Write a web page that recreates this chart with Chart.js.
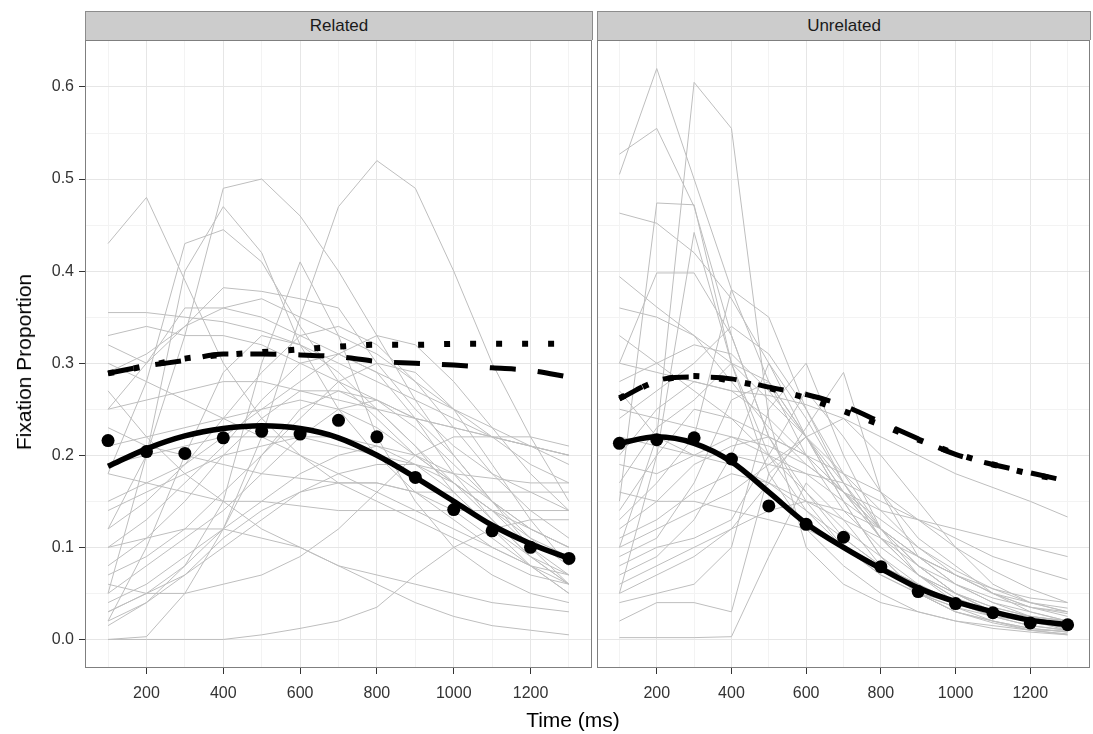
<!DOCTYPE html>
<html lang="en">
<head>
    <meta charset="UTF-8">
    <title>Fixation Proportion - Related vs Unrelated</title>
    <script src="https://cdn.jsdelivr.net/npm/chart.js"></script>
    <style>
        body { margin: 0; background: #fff; font-family: "Liberation Sans", Arial, sans-serif; }
        #wrap { position: relative; width: 1093px; height: 734px; }
        .strip {
            position: absolute; top: 11px; height: 29px; box-sizing: border-box;
            background: #cccccc; border: 1px solid #8c8c8c; border-bottom: none;
            text-align: center; font-size: 17px; line-height: 28px; color: #1a1a1a;
        }
        .panel { position: absolute; top: 40px; }
        #ytitle {
            position: absolute; left: 24px; top: 362px; font-size: 21px; color: #000;
            transform: translate(-50%, -50%) rotate(-90deg); white-space: nowrap;
        }
        #xtitle {
            position: absolute; left: 573px; top: 720px; font-size: 21px; color: #000;
            transform: translate(-50%, -50%); white-space: nowrap;
        }
    </style>
</head>
<body>
<div id="wrap">
    <div class="strip" style="left:85px;width:508px">Related</div>
    <div class="strip" style="left:597px;width:494px">Unrelated</div>
    <div class="panel" style="left:0"><canvas id="leftChart" width="593" height="694"></canvas></div>
    <div class="panel" style="left:597px"><canvas id="rightChart" width="496" height="694"></canvas></div>
    <div id="ytitle">Fixation Proportion</div>
    <div id="xtitle">Time (ms)</div>
</div>

<script>
    // time bins (ms)
    const times = [100, 200, 300, 400, 500, 600, 700, 800, 900, 1000, 1100, 1200, 1300];
    const xTicks = [200, 400, 600, 800, 1000, 1200];
    const yTicks = [0, 0.1, 0.2, 0.3, 0.4, 0.5, 0.6];

    // Related panel
    const relatedMeans  = [0.216, 0.204, 0.202, 0.219, 0.226, 0.223, 0.238, 0.220, 0.176, 0.141, 0.118, 0.100, 0.088];
    const relatedFit    = [0.188, 0.207, 0.221, 0.229, 0.232, 0.229, 0.219, 0.200, 0.176, 0.150, 0.124, 0.104, 0.088];
    const relatedDashed = [0.289, 0.297, 0.303, 0.310, 0.310, 0.309, 0.307, 0.302, 0.300, 0.298, 0.295, 0.292, 0.285];
    const relatedDotted = [0.289, 0.297, 0.305, 0.309, 0.312, 0.315, 0.318, 0.320, 0.320, 0.321, 0.321, 0.321, 0.321];

    // Unrelated panel
    const unrelatedMeans  = [0.213, 0.217, 0.219, 0.196, 0.145, 0.125, 0.111, 0.079, 0.052, 0.039, 0.029, 0.018, 0.016];
    const unrelatedFit    = [0.213, 0.220, 0.213, 0.193, 0.160, 0.126, 0.100, 0.077, 0.056, 0.041, 0.030, 0.021, 0.016];
    const unrelatedDashed = [0.261, 0.281, 0.285, 0.283, 0.274, 0.266, 0.254, 0.236, 0.218, 0.201, 0.190, 0.181, 0.172];
    const unrelatedDotted = [0.262, 0.280, 0.286, 0.281, 0.273, 0.262, 0.248, 0.233, 0.217, 0.202, 0.190, 0.180, 0.172];

    // individual participants (grey lines)
    const relatedSubjects = [
        [0.43, 0.48, 0.39, 0.30, 0.24, 0.20, 0.17, 0.15, 0.13, 0.11, 0.09, 0.07, 0.06],
        [0.03, 0.05, 0.08, 0.12, 0.22, 0.35, 0.47, 0.52, 0.49, 0.40, 0.30, 0.22, 0.15],
        [0.12, 0.20, 0.33, 0.49, 0.50, 0.46, 0.40, 0.33, 0.26, 0.20, 0.15, 0.12, 0.10],
        [0.05, 0.20, 0.40, 0.47, 0.42, 0.32, 0.25, 0.20, 0.16, 0.13, 0.10, 0.08, 0.07],
        [0.18, 0.28, 0.43, 0.445, 0.41, 0.34, 0.28, 0.24, 0.20, 0.17, 0.14, 0.12, 0.10],
        [0.02, 0.04, 0.08, 0.15, 0.30, 0.41, 0.33, 0.22, 0.15, 0.10, 0.07, 0.05, 0.04],
        [0.355, 0.355, 0.35, 0.345, 0.335, 0.32, 0.30, 0.28, 0.26, 0.24, 0.22, 0.21, 0.20],
        [0.25, 0.30, 0.34, 0.382, 0.378, 0.37, 0.36, 0.30, 0.25, 0.21, 0.18, 0.16, 0.14],
        [0.33, 0.34, 0.33, 0.33, 0.32, 0.30, 0.28, 0.26, 0.24, 0.23, 0.22, 0.22, 0.21],
        [0.32, 0.30, 0.36, 0.36, 0.35, 0.33, 0.31, 0.29, 0.27, 0.25, 0.23, 0.21, 0.19],
        [0.29, 0.31, 0.34, 0.36, 0.37, 0.35, 0.33, 0.31, 0.28, 0.25, 0.22, 0.19, 0.17],
        [0.27, 0.22, 0.18, 0.15, 0.12, 0.10, 0.08, 0.07, 0.06, 0.05, 0.04, 0.035, 0.03],
        [0.25, 0.26, 0.27, 0.28, 0.28, 0.27, 0.26, 0.25, 0.24, 0.23, 0.22, 0.21, 0.20],
        [0.23, 0.21, 0.20, 0.19, 0.18, 0.175, 0.17, 0.17, 0.16, 0.16, 0.16, 0.16, 0.16],
        [0.21, 0.22, 0.23, 0.24, 0.25, 0.26, 0.25, 0.23, 0.20, 0.17, 0.14, 0.11, 0.09],
        [0.19, 0.20, 0.21, 0.22, 0.22, 0.22, 0.21, 0.20, 0.19, 0.18, 0.175, 0.17, 0.17],
        [0.18, 0.17, 0.16, 0.15, 0.15, 0.145, 0.14, 0.14, 0.14, 0.14, 0.14, 0.14, 0.14],
        [0.15, 0.17, 0.19, 0.22, 0.25, 0.28, 0.31, 0.33, 0.32, 0.28, 0.23, 0.18, 0.14],
        [0.12, 0.15, 0.19, 0.24, 0.29, 0.33, 0.34, 0.32, 0.28, 0.23, 0.18, 0.14, 0.11],
        [0.10, 0.13, 0.17, 0.21, 0.26, 0.30, 0.31, 0.29, 0.24, 0.18, 0.13, 0.09, 0.06],
        [0.08, 0.11, 0.15, 0.20, 0.24, 0.27, 0.27, 0.25, 0.21, 0.16, 0.12, 0.08, 0.05],
        [0.07, 0.09, 0.12, 0.16, 0.20, 0.24, 0.28, 0.30, 0.29, 0.25, 0.19, 0.13, 0.08],
        [0.05, 0.08, 0.11, 0.14, 0.18, 0.22, 0.25, 0.26, 0.24, 0.20, 0.15, 0.10, 0.06],
        [0.04, 0.06, 0.09, 0.12, 0.15, 0.18, 0.20, 0.21, 0.20, 0.18, 0.15, 0.12, 0.10],
        [0.03, 0.05, 0.07, 0.10, 0.13, 0.16, 0.18, 0.19, 0.19, 0.17, 0.14, 0.10, 0.07],
        [0.02, 0.10, 0.20, 0.29, 0.33, 0.32, 0.29, 0.25, 0.21, 0.17, 0.13, 0.09, 0.06],
        [0.015, 0.04, 0.07, 0.11, 0.14, 0.16, 0.17, 0.17, 0.16, 0.14, 0.11, 0.08, 0.05],
        [0.0, 0.0, 0.0, 0.0, 0.005, 0.012, 0.02, 0.035, 0.07, 0.10, 0.12, 0.13, 0.13],
        [0.0, 0.003, 0.05, 0.12, 0.20, 0.25, 0.27, 0.26, 0.23, 0.19, 0.15, 0.11, 0.08],
        [0.10, 0.11, 0.12, 0.12, 0.11, 0.10, 0.08, 0.06, 0.04, 0.025, 0.015, 0.01, 0.005],
        [0.30, 0.28, 0.26, 0.24, 0.22, 0.20, 0.18, 0.16, 0.14, 0.12, 0.10, 0.08, 0.06],
        [0.14, 0.16, 0.18, 0.20, 0.21, 0.22, 0.22, 0.21, 0.19, 0.16, 0.12, 0.09, 0.07],
        [0.06, 0.05, 0.05, 0.06, 0.07, 0.09, 0.12, 0.16, 0.20, 0.22, 0.22, 0.21, 0.20]
    ];
    const unrelatedSubjects = [
        [0.505, 0.62, 0.50, 0.38, 0.28, 0.20, 0.14, 0.10, 0.07, 0.05, 0.035, 0.025, 0.02],
        [0.527, 0.555, 0.47, 0.33, 0.22, 0.15, 0.10, 0.07, 0.05, 0.035, 0.025, 0.02, 0.015],
        [0.10, 0.22, 0.605, 0.555, 0.24, 0.10, 0.06, 0.04, 0.03, 0.02, 0.012, 0.008, 0.005],
        [0.15, 0.474, 0.472, 0.30, 0.18, 0.12, 0.08, 0.05, 0.03, 0.02, 0.015, 0.01, 0.01],
        [0.463, 0.452, 0.42, 0.37, 0.30, 0.22, 0.16, 0.11, 0.08, 0.06, 0.045, 0.035, 0.03],
        [0.05, 0.20, 0.442, 0.30, 0.20, 0.14, 0.10, 0.07, 0.05, 0.04, 0.03, 0.02, 0.015],
        [0.394, 0.361, 0.33, 0.28, 0.23, 0.19, 0.16, 0.14, 0.13, 0.12, 0.11, 0.10, 0.09],
        [0.30, 0.398, 0.398, 0.33, 0.22, 0.16, 0.11, 0.08, 0.06, 0.04, 0.03, 0.025, 0.02],
        [0.30, 0.29, 0.28, 0.27, 0.265, 0.255, 0.24, 0.22, 0.20, 0.18, 0.165, 0.15, 0.133],
        [0.22, 0.21, 0.20, 0.20, 0.19, 0.18, 0.17, 0.15, 0.13, 0.11, 0.09, 0.077, 0.065],
        [0.33, 0.30, 0.27, 0.24, 0.22, 0.20, 0.18, 0.16, 0.13, 0.10, 0.075, 0.055, 0.04],
        [0.25, 0.24, 0.23, 0.22, 0.20, 0.18, 0.15, 0.12, 0.09, 0.07, 0.05, 0.04, 0.034],
        [0.20, 0.25, 0.28, 0.27, 0.24, 0.20, 0.16, 0.12, 0.09, 0.07, 0.05, 0.035, 0.028],
        [0.17, 0.23, 0.26, 0.30, 0.28, 0.22, 0.16, 0.11, 0.07, 0.05, 0.03, 0.02, 0.015],
        [0.14, 0.20, 0.25, 0.24, 0.20, 0.16, 0.12, 0.09, 0.06, 0.04, 0.03, 0.02, 0.015],
        [0.12, 0.15, 0.19, 0.21, 0.22, 0.20, 0.16, 0.12, 0.08, 0.05, 0.035, 0.025, 0.02],
        [0.05, 0.07, 0.09, 0.12, 0.17, 0.23, 0.29, 0.16, 0.09, 0.06, 0.04, 0.03, 0.02],
        [0.10, 0.12, 0.14, 0.16, 0.19, 0.22, 0.24, 0.20, 0.15, 0.10, 0.06, 0.04, 0.03],
        [0.08, 0.10, 0.11, 0.13, 0.20, 0.27, 0.22, 0.16, 0.11, 0.08, 0.05, 0.035, 0.025],
        [0.04, 0.05, 0.06, 0.10, 0.25, 0.30, 0.20, 0.12, 0.07, 0.04, 0.025, 0.015, 0.01],
        [0.002, 0.002, 0.002, 0.003, 0.09, 0.17, 0.13, 0.08, 0.05, 0.03, 0.02, 0.01, 0.005],
        [0.02, 0.04, 0.04, 0.03, 0.18, 0.22, 0.15, 0.09, 0.05, 0.03, 0.02, 0.012, 0.008],
        [0.06, 0.08, 0.10, 0.12, 0.14, 0.15, 0.14, 0.12, 0.09, 0.06, 0.04, 0.025, 0.015],
        [0.16, 0.15, 0.15, 0.14, 0.13, 0.12, 0.10, 0.08, 0.06, 0.04, 0.025, 0.015, 0.01],
        [0.11, 0.13, 0.16, 0.18, 0.17, 0.14, 0.11, 0.08, 0.05, 0.035, 0.02, 0.012, 0.008],
        [0.28, 0.30, 0.32, 0.31, 0.27, 0.22, 0.17, 0.12, 0.08, 0.05, 0.03, 0.02, 0.012],
        [0.24, 0.27, 0.30, 0.34, 0.31, 0.25, 0.18, 0.12, 0.08, 0.05, 0.03, 0.02, 0.01],
        [0.36, 0.35, 0.33, 0.30, 0.26, 0.22, 0.18, 0.14, 0.10, 0.07, 0.05, 0.03, 0.02],
        [0.19, 0.18, 0.20, 0.22, 0.21, 0.19, 0.16, 0.13, 0.10, 0.075, 0.055, 0.04, 0.03],
        [0.09, 0.11, 0.17, 0.26, 0.28, 0.22, 0.15, 0.09, 0.05, 0.03, 0.018, 0.01, 0.006],
        [0.13, 0.17, 0.22, 0.38, 0.35, 0.25, 0.17, 0.11, 0.07, 0.045, 0.03, 0.02, 0.012],
        [0.07, 0.09, 0.13, 0.20, 0.30, 0.24, 0.17, 0.11, 0.07, 0.045, 0.03, 0.02, 0.013],
        [0.27, 0.22, 0.20, 0.19, 0.17, 0.15, 0.13, 0.11, 0.09, 0.07, 0.055, 0.045, 0.04]
    ];

    const X_MIN = 40, X_MAX = 1360, Y_MIN = -0.031, Y_MAX = 0.651;

    function pts(values) {
        return times.map((t, i) => ({ x: t, y: values[i] }));
    }

    // major ticks from the label arrays, minor ones half way between
    const xGrid = [];
    for (let v = 100; v <= 1300; v += 100) xGrid.push(v);
    const yGrid = [];
    for (let i = 0; i <= 13; i++) yGrid.push(Math.round(i * 5) / 100);

    const isMajorX = v => xTicks.includes(v);
    const isMajorY = v => yTicks.some(t => Math.abs(t - v) < 1e-6);

    function noPad(s) {
        s.paddingTop = 0; s.paddingBottom = 0; s.paddingLeft = 0; s.paddingRight = 0;
    }

    const panelBorder = {
        id: 'panelBorder',
        afterDraw(chart) {
            const a = chart.chartArea, ctx = chart.ctx;
            ctx.save();
            ctx.strokeStyle = '#7f7f7f';
            ctx.lineWidth = 1;
            ctx.strokeRect(a.left + 0.5, a.top + 0.5, a.right - a.left - 1, a.bottom - a.top - 1);
            ctx.restore();
        }
    };

    function buildDatasets(subjects, means, fit, dashed, dotted) {
        const sets = subjects.map(s => ({
            type: 'line', data: pts(s), borderColor: '#bebebe', borderWidth: 1,
            pointRadius: 0, tension: 0, order: 10
        }));
        sets.push({
            type: 'line', data: pts(dashed), borderColor: '#000', borderWidth: 5,
            borderDash: [26, 22], borderCapStyle: 'butt', pointRadius: 0,
            tension: 0.3, cubicInterpolationMode: 'monotone', order: 4
        });
        sets.push({
            type: 'line', data: pts(dotted), borderColor: '#000', borderWidth: 6,
            borderDash: [6, 20], borderCapStyle: 'butt', pointRadius: 0,
            tension: 0.3, cubicInterpolationMode: 'monotone', order: 3
        });
        sets.push({
            type: 'line', data: pts(fit), borderColor: '#000', borderWidth: 5.5,
            pointRadius: 0, tension: 0.4, cubicInterpolationMode: 'monotone', order: 2
        });
        sets.push({
            type: 'scatter', data: pts(means), backgroundColor: '#000', borderWidth: 0,
            pointRadius: 6.5, order: 1
        });
        return sets;
    }

    function makeChart(id, datasets, showY, padRight) {
        return new Chart(document.getElementById(id), {
            data: { datasets: datasets },
            plugins: [panelBorder],
            options: {
                responsive: false,
                animation: false,
                events: [],
                layout: { autoPadding: false, padding: { left: 0, right: padRight, top: 0, bottom: 0 } },
                plugins: { legend: { display: false }, tooltip: { enabled: false } },
                scales: {
                    x: {
                        type: 'linear', min: X_MIN, max: X_MAX,
                        afterBuildTicks: s => { s.ticks = xGrid.map(v => ({ value: v })); },
                        afterFit: s => { s.height = 66; noPad(s); },
                        border: { display: false },
                        grid: {
                            color: c => isMajorX(c.tick.value) ? '#e6e6e6' : '#f3f3f3',
                            tickColor: c => isMajorX(c.tick.value) ? '#333' : 'rgba(0,0,0,0)',
                            tickLength: 6
                        },
                        ticks: {
                            autoSkip: false, maxRotation: 0, padding: 10,
                            color: '#333', font: { family: 'Liberation Sans', size: 16 },
                            callback: v => isMajorX(v) ? String(v) : ''
                        }
                    },
                    y: {
                        type: 'linear', min: Y_MIN, max: Y_MAX,
                        display: true,
                        afterBuildTicks: s => { s.ticks = yGrid.map(v => ({ value: v })); },
                        afterFit: s => { s.width = showY ? 85 : 0; noPad(s); },
                        border: { display: false },
                        grid: {
                            color: c => isMajorY(c.tick.value) ? '#e6e6e6' : '#f3f3f3',
                            tickColor: c => (showY && isMajorY(c.tick.value)) ? '#333' : 'rgba(0,0,0,0)',
                            tickLength: showY ? 6 : 0
                        },
                        ticks: {
                            display: showY, padding: 5,
                            color: '#333', font: { family: 'Liberation Sans', size: 16 },
                            callback: v => isMajorY(v) ? v.toFixed(1) : ''
                        }
                    }
                }
            }
        });
    }

    makeChart('leftChart',
        buildDatasets(relatedSubjects, relatedMeans, relatedFit, relatedDashed, relatedDotted), true, 1);
    makeChart('rightChart',
        buildDatasets(unrelatedSubjects, unrelatedMeans, unrelatedFit, unrelatedDashed, unrelatedDotted), false, 3);
</script>
</body>
</html>
